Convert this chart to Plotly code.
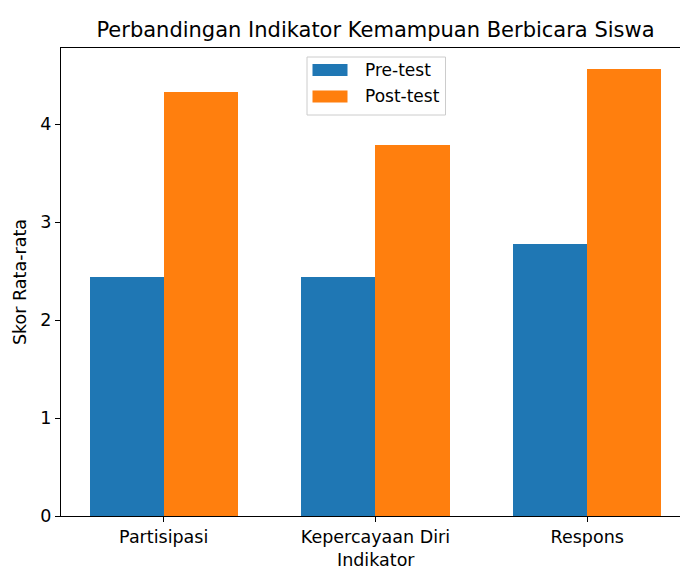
import plotly.graph_objects as go

categories = ["Partisipasi", "Kepercayaan Diri", "Respons"]
pre_test = [2.44, 2.44, 2.78]
post_test = [4.33, 3.79, 4.56]
series_names = ["Pre-test", "Post-test"]
colors = ["#1f77b4", "#ff7f0e"]
y_ticks = [0, 1, 2, 3, 4]

W, H = 680, 567
# plot area in page pixels
L, R, T, B = 61, 680, 48, 516
FONT = "DejaVu Sans"

xs = list(range(len(categories)))
bw = 0.35

fig = go.Figure()
fig.add_trace(go.Bar(x=[x - bw / 2 for x in xs], y=pre_test, width=bw,
                     marker=dict(color=colors[0], line=dict(width=0)),
                     name=series_names[0], showlegend=False))
fig.add_trace(go.Bar(x=[x + bw / 2 for x in xs], y=post_test, width=bw,
                     marker=dict(color=colors[1], line=dict(width=0)),
                     name=series_names[1], showlegend=False))

def px2paper_x(px):
    return (px - L) / (R - L)

def px2paper_y(py):
    return (B - py) / (B - T)

shapes = []
annotations = []
# legend box
shapes.append(dict(type="rect", xref="paper", yref="paper",
                   x0=px2paper_x(307), x1=px2paper_x(445.5),
                   y0=px2paper_y(115), y1=px2paper_y(57),
                   line=dict(color="#cccccc", width=1), fillcolor="rgba(255,255,255,0.8)", layer="above"))
for i, (nm, c) in enumerate(zip(series_names, colors)):
    yc = 70 + i * 26.5
    shapes.append(dict(type="rect", xref="paper", yref="paper",
                       x0=px2paper_x(312.5), x1=px2paper_x(347.5),
                       y0=px2paper_y(yc + 6), y1=px2paper_y(yc - 6),
                       line=dict(width=0), fillcolor=c, layer="above"))
    annotations.append(dict(xref="paper", yref="paper", x=px2paper_x(362.5), y=px2paper_y(yc),
                            text=nm, showarrow=False, xanchor="left", yanchor="middle",
                            font=dict(family=FONT, size=17, color="#000")))
# x axis title
annotations.append(dict(xref="paper", yref="paper", x=px2paper_x(375.5), y=px2paper_y(560),
                        text="Indikator", showarrow=False, xanchor="center", yanchor="middle",
                        font=dict(family=FONT, size=17.5, color="#000")))

fig.update_layout(
    width=W, height=H,
    margin=dict(l=L, r=W - R, t=T, b=H - B, pad=0),
    paper_bgcolor="white", plot_bgcolor="white",
    bargap=0, barmode="overlay",
    font=dict(family=FONT, size=17.5, color="#000"),
    title=dict(text="Perbandingan Indikator Kemampuan Berbicara Siswa",
               x=375.5 / W, xanchor="center",
               y=1 - 30 / H, yanchor="middle",
               font=dict(family=FONT, size=21, color="#000")),
    xaxis=dict(range=[-0.485, 2.438], tickmode="array", tickvals=xs, ticktext=categories,
               showline=True, linecolor="#000", linewidth=1, mirror=True,
               ticks="outside", ticklen=5, tickwidth=1, tickcolor="#000",
               showgrid=False, zeroline=False),
    yaxis=dict(range=[0, 4.776], tickmode="array", tickvals=y_ticks,
               showline=True, linecolor="#000", linewidth=1,
               ticks="outside", ticklen=5, tickwidth=1, tickcolor="#000",
               showgrid=False, zeroline=False,
               title=dict(text="Skor Rata-rata", standoff=9, font=dict(family=FONT, size=17.5))),
    shapes=shapes, annotations=annotations,
)

fig.write_html("out.html", config={"displayModeBar": False},
               post_script="document.body.style.margin='0';document.body.style.overflow='hidden';")
